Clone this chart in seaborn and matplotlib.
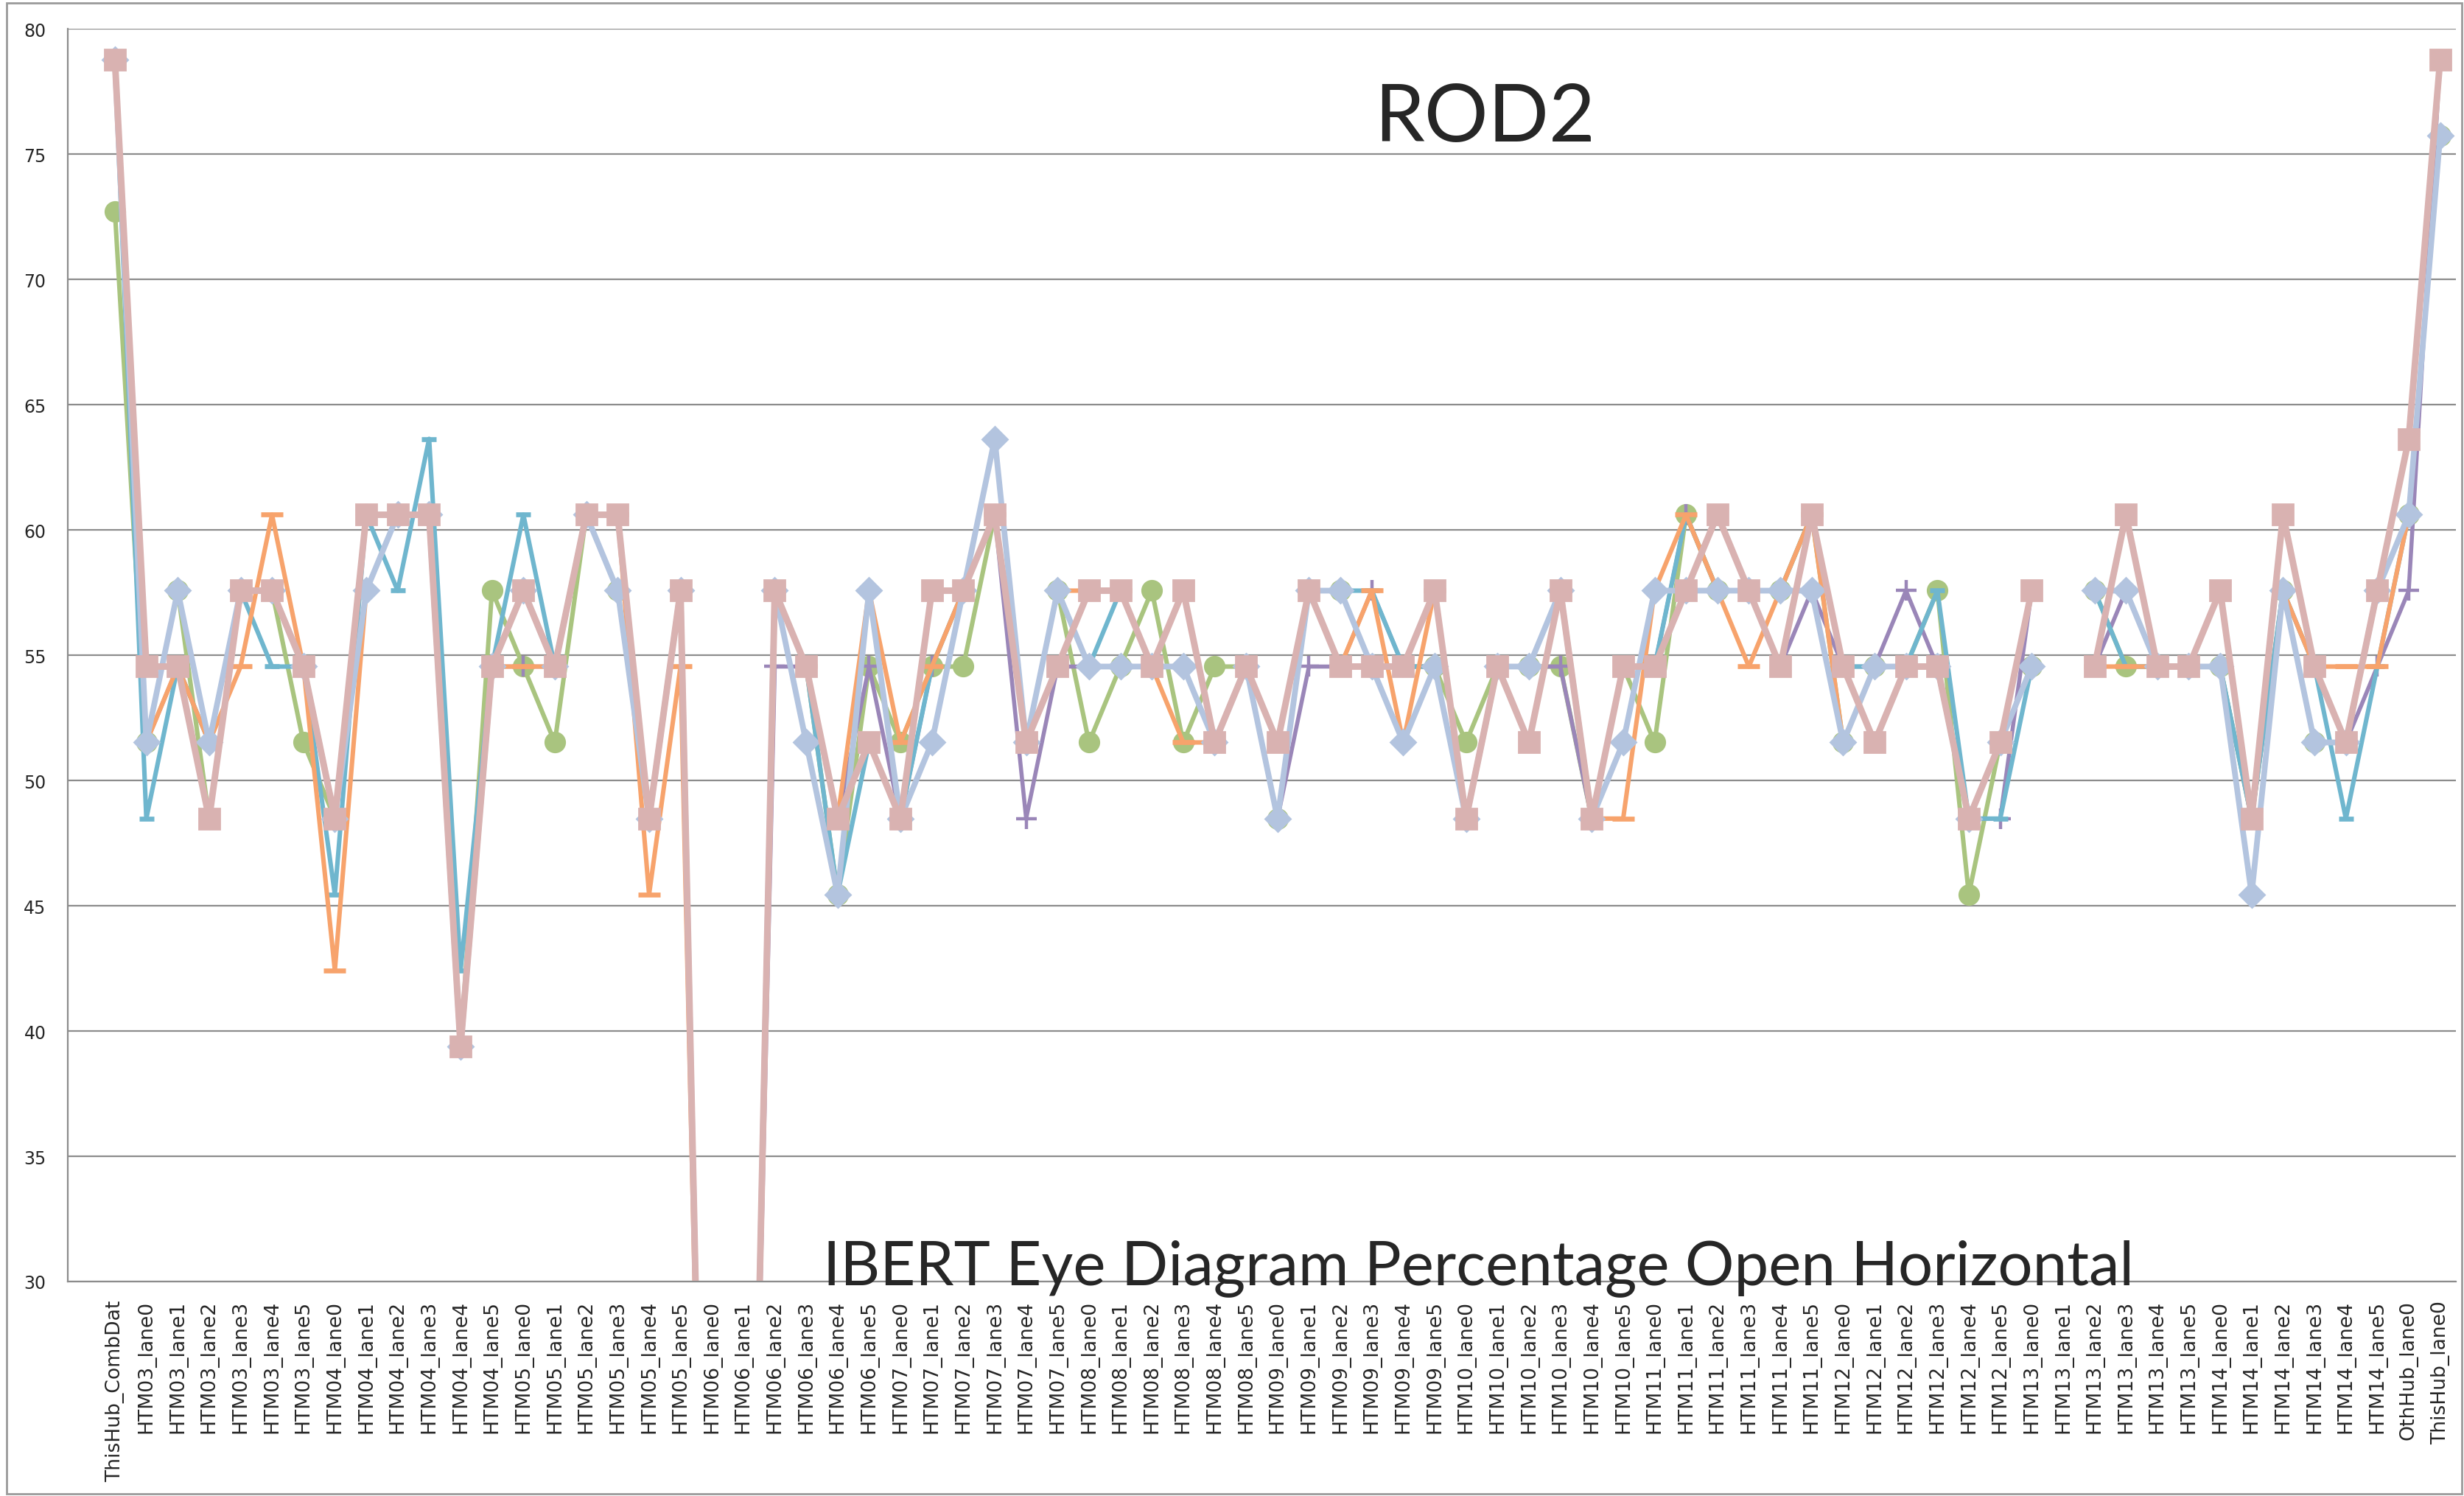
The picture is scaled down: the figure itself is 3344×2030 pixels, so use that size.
import numpy as np
import pandas as pd
import matplotlib
matplotlib.use("Agg")
import matplotlib.pyplot as plt
import seaborn as sns
from matplotlib.patches import Rectangle

nan = np.nan

# x categories: combined hub, HTM03..HTM14 lanes 0-5, other hub, this hub
hubs = ["HTM%02d" % n for n in range(3, 15)]
categories = (["ThisHub_CombDat"]
              + [f"{h}_lane{l}" for h in hubs for l in range(6)]
              + ["OthHub_lane0", "ThisHub_lane0"])

# series values (percent open)
green = [72.73,
         51.52, 57.58, 48.48, 57.58, 57.58, 51.52,
         48.48, 60.61, 60.61, 60.61, 39.39, 57.58,
         54.55, 51.52, 60.61, 57.58, 48.48, 57.58,
         0, 0, 57.58, 54.55, 45.45, 54.55,
         51.52, 54.55, 54.55, 60.61, 51.52, 57.58,
         51.52, 54.55, 57.58, 51.52, 54.55, 54.55,
         48.48, 57.58, 57.58, 54.55, 54.55, 54.55,
         51.52, 54.55, 54.55, 54.55, 48.48, 54.55,
         51.52, 60.61, 57.58, 57.58, 57.58, 60.61,
         51.52, 54.55, 54.55, 57.58, 45.45, 51.52,
         54.55, nan, 57.58, 54.55, 54.55, 54.55,
         54.55, 48.48, 57.58, 51.52, 51.52, 57.58,
         60.61, 75.76]

purple = [78.79,
          51.52, 54.55, 51.52, 57.58, 57.58, 54.55,
          48.48, 57.58, 60.61, 60.61, 39.39, 54.55,
          54.55, 54.55, 60.61, 60.61, 48.48, 57.58,
          0, 0, 54.55, 54.55, 48.48, 54.55,
          48.48, 54.55, 57.58, 60.61, 48.48, 54.55,
          54.55, 54.55, 54.55, 54.55, 51.52, 54.55,
          48.48, 54.55, 54.55, 57.58, 54.55, 54.55,
          48.48, 54.55, 54.55, 54.55, 48.48, 54.55,
          54.55, 60.61, 57.58, 57.58, 54.55, 57.58,
          54.55, 54.55, 57.58, 54.55, 48.48, 48.48,
          57.58, nan, 54.55, 57.58, 54.55, 54.55,
          54.55, 48.48, 57.58, 54.55, 51.52, 54.55,
          57.58, 78.79]

teal = [78.79,
        48.48, 54.55, 51.52, 57.58, 54.55, 54.55,
        45.45, 60.61, 57.58, 63.64, 42.42, 54.55,
        60.61, 54.55, 60.61, 57.58, 48.48, 57.58,
        0, 0, 57.58, 54.55, 45.45, 51.52,
        48.48, 54.55, 57.58, 60.61, 51.52, 57.58,
        54.55, 57.58, 54.55, 54.55, 51.52, 54.55,
        48.48, 57.58, 57.58, 57.58, 54.55, 54.55,
        48.48, 54.55, 54.55, 57.58, 48.48, 54.55,
        54.55, 60.61, 57.58, 57.58, 57.58, 60.61,
        54.55, 54.55, 54.55, 57.58, 48.48, 48.48,
        54.55, nan, 57.58, 54.55, 54.55, 54.55,
        54.55, 48.48, 57.58, 54.55, 48.48, 54.55,
        60.61, 75.76]

orange = [78.79,
          51.52, 54.55, 51.52, 54.55, 60.61, 54.55,
          42.42, 57.58, 60.61, 60.61, 39.39, 54.55,
          54.55, 54.55, 60.61, 60.61, 45.45, 54.55,
          0, 0, 57.58, 54.55, 48.48, 57.58,
          51.52, 54.55, 57.58, 60.61, 51.52, 57.58,
          57.58, 57.58, 54.55, 51.52, 51.52, 54.55,
          48.48, 57.58, 54.55, 57.58, 51.52, 57.58,
          48.48, 54.55, 54.55, 57.58, 48.48, 48.48,
          57.58, 60.61, 57.58, 54.55, 57.58, 60.61,
          51.52, 54.55, 54.55, 54.55, 48.48, 51.52,
          54.55, nan, 54.55, 54.55, 54.55, 54.55,
          54.55, 45.45, 57.58, 54.55, 54.55, 54.55,
          60.61, 75.76]

lightblue = [78.79,
             51.52, 57.58, 51.52, 57.58, 57.58, 54.55,
             48.48, 57.58, 60.61, 60.61, 39.39, 54.55,
             57.58, 54.55, 60.61, 57.58, 48.48, 57.58,
             0, 0, 57.58, 51.52, 45.45, 57.58,
             48.48, 51.52, 57.58, 63.64, 51.52, 57.58,
             54.55, 54.55, 54.55, 54.55, 51.52, 54.55,
             48.48, 57.58, 57.58, 54.55, 51.52, 54.55,
             48.48, 54.55, 54.55, 57.58, 48.48, 51.52,
             57.58, 57.58, 57.58, 57.58, 57.58, 57.58,
             51.52, 54.55, 54.55, 54.55, 48.48, 51.52,
             54.55, nan, 57.58, 57.58, 54.55, 54.55,
             54.55, 45.45, 57.58, 51.52, 51.52, 57.58,
             60.61, 75.76]

pink = [78.79,
        54.55, 54.55, 48.48, 57.58, 57.58, 54.55,
        48.48, 60.61, 60.61, 60.61, 39.39, 54.55,
        57.58, 54.55, 60.61, 60.61, 48.48, 57.58,
        0, 0, 57.58, 54.55, 48.48, 51.52,
        48.48, 57.58, 57.58, 60.61, 51.52, 54.55,
        57.58, 57.58, 54.55, 57.58, 51.52, 54.55,
        51.52, 57.58, 54.55, 54.55, 54.55, 57.58,
        48.48, 54.55, 51.52, 57.58, 48.48, 54.55,
        54.55, 57.58, 60.61, 57.58, 54.55, 60.61,
        54.55, 51.52, 54.55, 54.55, 48.48, 51.52,
        57.58, nan, 54.55, 60.61, 54.55, 54.55,
        57.58, 48.48, 60.61, 54.55, 51.52, 57.58,
        63.64, 78.79]

# drawing order follows the spreadsheet (last one on top)
series = [
    # values, colour, marker, marker size, edge width, line width
    (green, "#A9C47F", "o", 9.5, 1.0, 2.2),
    (purple, "#9A86B8", "+", 10.0, 1.6, 2.0),
    (teal, "#6FB6CE", "_", 7.0, 2.4, 2.2),
    (orange, "#F7A36C", "_", 11.0, 2.4, 2.2),
    (lightblue, "#B3C4DF", "D", 8.5, 1.0, 2.8),
    (pink, "#D9B2B1", "s", 10.0, 1.0, 3.2),
]

sns.set_style("white")
plt.rcParams["font.family"] = ["DejaVu Sans"]

fig = plt.figure(figsize=(16.72, 10.155), dpi=200)
ax = fig.add_axes([0.0275, 0.1433, 0.9692, 0.8368])

for vals, color, marker, ms, mew, lw in series:
    d = pd.DataFrame({"x": np.arange(len(vals)), "y": vals})
    d["seg"] = d["y"].isna().cumsum()
    d = d.dropna()
    sns.lineplot(data=d, x="x", y="y", units="seg", estimator=None,
                 color=color, linewidth=lw, marker=marker, markersize=ms,
                 markerfacecolor=color, markeredgecolor=color,
                 markeredgewidth=mew, legend=False, ax=ax)

ax.set_ylim(30, 80)
ax.set_yticks(np.arange(30, 81, 5))
ax.set_xlim(-1.5, len(categories) - 0.5)
ax.set_xticks(np.arange(len(categories)))
ax.set_xticklabels(categories, rotation=90, fontsize=9.6, va="top")
ax.set_xticks(np.arange(-1.5, len(categories), 1.0), minor=True)
ax.tick_params(axis="x", which="major", length=0, pad=9)
ax.tick_params(axis="x", which="minor", length=4.3, width=0.7, color="#8C8C8C", direction="out")
ax.tick_params(axis="y", length=3.6, width=0.7, color="#8C8C8C", direction="out", pad=7)
for lab in ax.get_yticklabels():
    lab.set_fontsize(8.5)
ax.set_xlabel("")
ax.set_ylabel("")

ax.yaxis.grid(True, color="#8C8C8C", linewidth=0.8)
ax.xaxis.grid(False)
ax.set_axisbelow(True)
for side in ["top", "right"]:
    ax.spines[side].set_visible(False)
for side in ["left", "bottom"]:
    ax.spines[side].set_color("#8C8C8C")
    ax.spines[side].set_linewidth(0.8)

fig.text(0.6026, 0.9055, "ROD2", fontsize=39, family=["Lato", "DejaVu Sans"],
         ha="center", va="baseline")
fig.text(0.600, 0.1418, "IBERT Eye Diagram Percentage Open Horizontal", fontsize=30,
         family=["Lato", "DejaVu Sans"], ha="center", va="baseline")

fig.patches.append(Rectangle((0.0027, 0.0015), 0.9963, 0.996, transform=fig.transFigure,
                             fill=False, edgecolor="#9A9A9A", linewidth=1.0))

fig.savefig("out.png", dpi=200)
